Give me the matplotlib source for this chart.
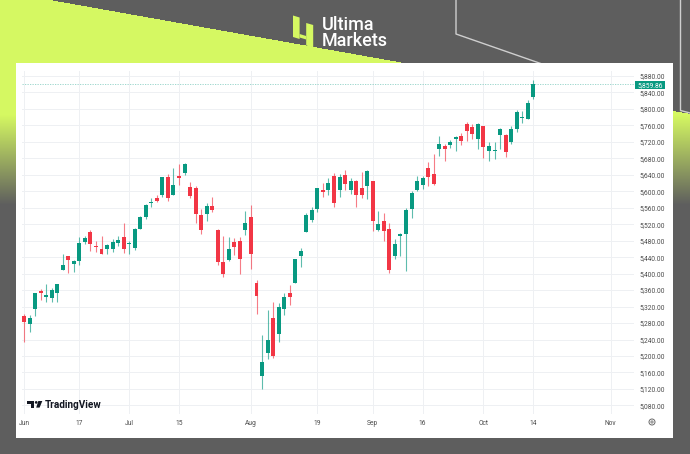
import numpy as np
import pandas as pd
import matplotlib
matplotlib.use("Agg")
import matplotlib.pyplot as plt
from matplotlib.patches import Rectangle, Polygon, Circle

plt.rcParams['font.family'] = ['Roboto', 'DejaVu Sans']

# ---------------- data (S&P 500 daily, Jun 3 - Oct 14 2024) ----------------
holidays = ["2024-06-19", "2024-07-04", "2024-09-02"]
opens = [5297.15, 5278.24, 5314.48, 5357.80, 5343.81, 5341.22, 5353.00, 5409.13, 5441.93, 5424.08,
         5431.11, 5476.15, 5499.99, 5466.77, 5459.58, 5460.73, 5460.71, 5473.59, 5488.48,
         5471.08, 5461.84, 5507.44, 5537.91, 5572.75, 5584.24, 5591.26, 5635.21, 5590.76, 5638.16,
         5644.09, 5610.07, 5608.56, 5543.37, 5544.54, 5565.30, 5505.84, 5428.70, 5433.67, 5476.55,
         5478.73, 5505.59,
         5537.84, 5376.63, 5151.14, 5206.42, 5293.13, 5252.57, 5312.99, 5351.88, 5376.98, 5442.75,
         5501.13, 5530.50, 5557.23, 5602.88, 5603.09, 5637.77, 5602.99, 5639.66, 5602.89, 5624.51,
         5607.30, 5612.74,
         5623.89, 5506.68, 5527.60, 5507.33, 5442.07, 5490.51, 5496.42, 5557.48, 5603.34, 5615.21,
         5655.51, 5641.68, 5702.63, 5709.63, 5711.90, 5727.09, 5733.44, 5762.22, 5755.36, 5726.52,
         5757.73, 5698.17, 5698.19, 5737.72, 5737.80, 5719.14, 5751.80, 5778.36, 5775.09, 5829.81]
highs = [5302.11, 5298.80, 5354.16, 5362.35, 5375.08, 5365.79, 5375.95, 5447.25, 5441.93, 5432.39,
         5488.50, 5490.38, 5505.53, 5478.31, 5490.66, 5472.88, 5483.14, 5490.81, 5523.64,
         5479.55, 5509.69, 5539.27, 5570.33, 5583.11, 5590.75, 5635.39, 5642.45, 5655.56, 5666.94,
         5669.67, 5622.49, 5614.05, 5557.50, 5570.36, 5585.34, 5508.04, 5491.59, 5488.32, 5487.74,
         5489.46, 5551.51,
         5566.16, 5383.89, 5250.89, 5312.34, 5330.64, 5328.03, 5351.99, 5371.20, 5436.50, 5463.22,
         5546.23, 5561.98, 5608.30, 5620.51, 5632.68, 5643.22, 5641.82, 5651.62, 5631.18, 5627.03,
         5646.95, 5651.37,
         5623.89, 5552.99, 5546.30, 5522.47, 5484.20, 5497.91, 5560.41, 5600.71, 5636.27, 5636.05,
         5670.81, 5689.75, 5733.57, 5715.14, 5725.36, 5735.32, 5741.03, 5767.37, 5763.78, 5765.14,
         5757.73, 5719.14, 5718.78, 5753.51, 5739.34, 5757.60, 5796.80, 5795.03, 5822.13, 5871.41]
lows = [5234.32, 5257.63, 5297.64, 5335.36, 5331.33, 5331.52, 5331.33, 5409.13, 5402.51, 5403.75,
        5420.40, 5471.32, 5455.56, 5452.03, 5447.59, 5446.56, 5451.87, 5467.54, 5451.12,
        5446.53, 5458.43, 5507.42, 5531.63, 5562.51, 5574.57, 5586.44, 5576.53, 5590.44, 5614.75,
        5639.02, 5584.81, 5522.81, 5497.04, 5529.04, 5550.90, 5419.98, 5390.95, 5430.70, 5444.44,
        5398.84, 5493.75,
        5410.42, 5302.03, 5119.26, 5193.56, 5195.54, 5233.85, 5300.35, 5324.37, 5376.98, 5415.43,
        5501.13, 5525.17, 5550.74, 5585.50, 5591.57, 5560.95, 5585.16, 5602.34, 5593.48, 5560.99,
        5583.71, 5581.79,
        5504.33, 5503.66, 5480.40, 5402.62, 5434.49, 5441.72, 5406.96, 5535.50, 5601.65, 5604.53,
        5614.05, 5615.08, 5686.42, 5674.49, 5704.94, 5698.99, 5712.06, 5721.01, 5727.34, 5703.53,
        5681.28, 5674.00, 5677.97, 5702.83, 5683.88, 5714.56, 5745.02, 5764.76, 5775.09, 5824.83]
closes = [5283.40, 5291.34, 5354.03, 5352.96, 5346.99, 5360.79, 5375.32, 5421.03, 5433.74, 5431.60,
          5473.23, 5487.03, 5473.17, 5464.62, 5447.87, 5469.30, 5477.90, 5482.87, 5460.48,
          5475.09, 5509.01, 5537.02, 5567.19, 5572.85, 5576.98, 5633.91, 5584.54, 5615.35, 5631.22,
          5667.20, 5588.27, 5544.59, 5505.00, 5564.41, 5555.74, 5427.13, 5399.22, 5459.10, 5463.54,
          5436.44, 5522.30,
          5446.68, 5346.56, 5186.33, 5240.03, 5199.50, 5319.31, 5344.16, 5344.39, 5434.43, 5455.21,
          5543.22, 5554.25, 5608.25, 5597.12, 5620.85, 5570.64, 5634.61, 5616.84, 5625.80, 5592.18,
          5591.96, 5648.40,
          5528.93, 5520.07, 5503.41, 5408.42, 5471.05, 5495.52, 5554.13, 5595.76, 5626.02, 5633.09,
          5634.58, 5618.26, 5713.64, 5702.55, 5718.57, 5732.93, 5722.26, 5745.37, 5738.17, 5762.48,
          5708.75, 5709.54, 5699.94, 5751.07, 5695.94, 5751.13, 5792.04, 5780.05, 5815.03, 5859.85]
last_price = 5859.86
price_ticks = list(range(5080, 5881, 40))
xtick_dates = ["2024-06-03", "2024-06-17", "2024-07-01", "2024-07-15", "2024-08-01", "2024-08-19",
               "2024-09-03", "2024-09-16", "2024-10-01", "2024-10-14", "2024-11-01"]
xtick_labels = ["Jun", "17", "Jul", "15", "Aug", "19", "Sep", "16", "Oct", "14", "Nov"]

# trading-day index
all_days = [d for d in pd.bdate_range("2024-06-03", "2024-11-01") if d.strftime("%Y-%m-%d") not in holidays]
day_index = {d.strftime("%Y-%m-%d"): i for i, d in enumerate(all_days)}
x = np.arange(len(closes))
xtick_pos = [day_index[d] for d in xtick_dates]

# ---------------- figure ----------------
W, H = 690, 454
fig = plt.figure(figsize=(W / 100, H / 100), dpi=100)

bg = fig.add_axes([0, 0, 1, 1], zorder=0)
bg.set_xlim(0, W)
bg.set_ylim(H, 0)
bg.axis("off")

gray = np.array([94, 94, 94]) / 255.0
lime = np.array([213, 248, 98]) / 255.0
yy, xx = np.mgrid[0:H, 0:W] + 0.5
below = (yy > (xx - 50) * 0.178).astype(float)
t = np.clip((205 - yy) / (205 - 115), 0, 1) * below
img = gray[None, None, :] * (1 - t[..., None]) + lime[None, None, :] * t[..., None]
bg.imshow(img, extent=(0, W, H, 0), aspect="auto", interpolation="bilinear", zorder=0)

# outline lines
bg.plot([456, 456, 545], [0, 34, 65], color="#cfcfcf", lw=1.0, zorder=1)
bg.plot([680.5, 680.5, 692], [0, 110.5, 113.5], color="#cfcfcf", lw=1.0, zorder=1)

# white panel
bg.add_patch(Rectangle((16, 62.7), 657, 375.5, facecolor="white", edgecolor="none", zorder=2))

# ---------------- chart axes ----------------
axL, axR, axT, axB = 22, 634, 71, 414
ax = fig.add_axes([axL / W, 1 - axB / H, (axR - axL) / W, (axB - axT) / H], zorder=1)
ax.set_facecolor("none")
px_per_bar = (533.3 - 24) / 92
ax.set_xlim((axL - 24) / px_per_bar, (axR - 24) / px_per_bar)
ppx = 40 / 16.47
ax.set_ylim(5880 - (axB - 76) * ppx, 5880 + (76 - axT) * ppx)
for s in ax.spines.values():
    s.set_visible(False)

ax.set_yticks(price_ticks)
ax.set_yticklabels([f"{v:,.2f}" for v in price_ticks])
ax.yaxis.tick_right()
ax.set_xticks(xtick_pos)
ax.set_xticklabels(xtick_labels)
ax.tick_params(axis="both", length=0, labelsize=4.8, labelcolor="#4a4a4a")
ax.tick_params(axis="y", pad=4)
ax.tick_params(axis="x", pad=4)
ax.grid(True, color="#eef0f3", lw=0.7)
ax.set_axisbelow(True)

up, dn = "#089981", "#f23645"
o = np.array(opens); c = np.array(closes); h = np.array(highs); l = np.array(lows)
cols = np.where(c >= o, up, dn)
ax.vlines(x, l, h, colors=cols, lw=0.8, alpha=0.65, zorder=2)
bottoms = np.minimum(o, c)
heights = np.maximum(np.abs(c - o), 1.2)
ax.bar(x, heights, bottom=bottoms, width=0.72, color=cols, edgecolor="none", zorder=3)

ax.axhline(last_price, color=up, lw=0.6, ls=(0, (1.5, 1.5)), alpha=0.45, zorder=1)

# ---------------- overlay ----------------
ov = fig.add_axes([0, 0, 1, 1], zorder=2)
ov.set_xlim(0, W)
ov.set_ylim(H, 0)
ov.axis("off")
ov.set_facecolor("none")

# last price label
ov.add_patch(Rectangle((635, 81.3), 29.5, 7.6, facecolor=up, edgecolor="none"))
ov.text(649.8, 85.3, f"{last_price:,.2f}", color="white", fontsize=4.8, ha="center", va="center")

# gear icon
ov.add_patch(Circle((652, 422), 3.0, facecolor="none", edgecolor="#6a6a6a", lw=0.7))
ov.add_patch(Circle((652, 422), 1.1, facecolor="none", edgecolor="#6a6a6a", lw=0.6))

# TradingView logo
ov.add_patch(Rectangle((27, 401), 7, 2.6, facecolor="#131722", edgecolor="none"))
ov.add_patch(Rectangle((31, 401), 3, 6.6, facecolor="#131722", edgecolor="none"))
ov.add_patch(Circle((36.2, 402.4), 1.35, facecolor="#131722", edgecolor="none"))
ov.add_patch(Polygon([(38.3, 401), (42.3, 401), (39.6, 407.6), (36.2, 407.6)], closed=True,
                     facecolor="#131722", edgecolor="none"))
ov.text(44.5, 404.6, "TradingView", color="#131722", fontsize=7.2, fontweight="bold",
        ha="left", va="center")

# Ultima Markets logo
ov.add_patch(Polygon([(293, 15.5), (299.6, 17.5), (299.6, 39), (293, 37)], closed=True,
                     facecolor=lime, edgecolor="none"))
ov.add_patch(Polygon([(299.6, 34), (306.2, 36), (306.2, 39.5), (299.6, 37.5)], closed=True,
                     facecolor=lime, edgecolor="none"))
ov.add_patch(Polygon([(306.2, 23), (313.2, 25), (313.2, 47.5), (306.2, 45.5)], closed=True,
                     facecolor=lime, edgecolor="none"))
ov.text(321.5, 32.8, "Ultima\nMarkets", color="white", fontsize=13, fontweight="medium",
        ha="left", va="center", linespacing=0.86)

fig.savefig("out.png", dpi=100)
